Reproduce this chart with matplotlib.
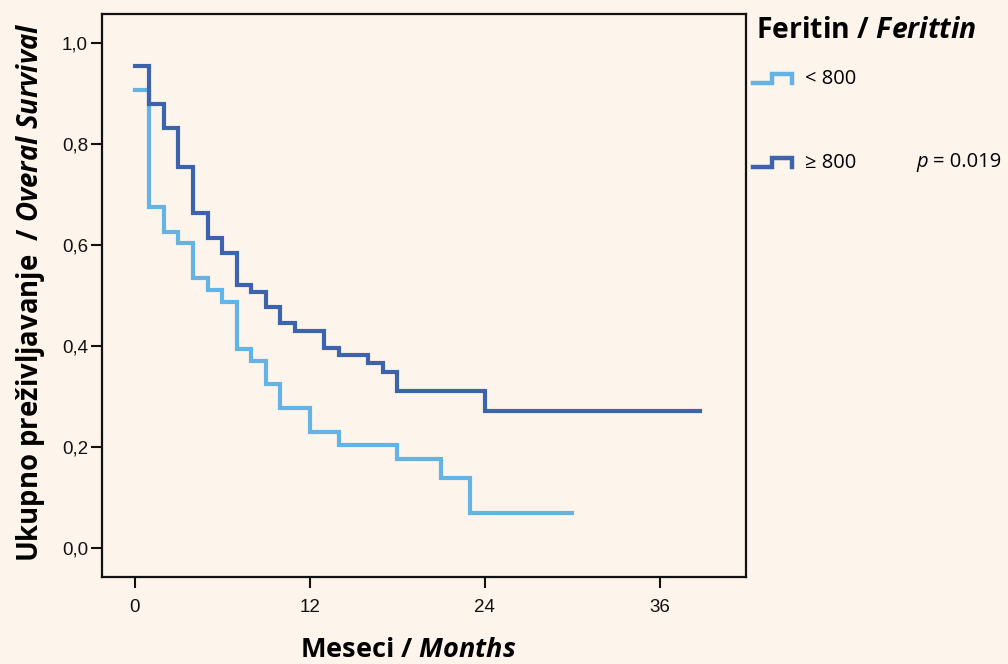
import matplotlib
matplotlib.use("Agg")
import matplotlib.pyplot as plt
from matplotlib.lines import Line2D

# Kaplan-Meier steps (months, survival)
months_low = [0, 1, 2, 3, 4, 5, 6, 7, 8, 9, 10, 12, 14, 18, 21, 23, 30]
surv_low = [0.907, 0.675, 0.626, 0.604, 0.535, 0.511, 0.487, 0.394, 0.370,
            0.325, 0.277, 0.230, 0.204, 0.176, 0.139, 0.069, 0.069]
months_high = [0, 1, 2, 3, 4, 5, 6, 7, 8, 9, 10, 11, 13, 14, 16, 17, 18, 24, 38.8]
surv_high = [0.954, 0.879, 0.832, 0.754, 0.663, 0.614, 0.584, 0.521, 0.507,
             0.477, 0.446, 0.430, 0.396, 0.382, 0.366, 0.349, 0.311, 0.271, 0.271]
group_labels = ["< 800", "\u2265 800"]
x_ticks = [0, 12, 24, 36]
y_ticks = [0.0, 0.2, 0.4, 0.6, 0.8, 1.0]
y_ticklabels = ["0,0", "0,2", "0,4", "0,6", "0,8", "1,0"]
p_text = "0.019"

bg = "#fdf4eb"
c_low = "#63b4e5"
c_high = "#3e63ad"

plt.rcParams["font.family"] = ["Liberation Sans Narrow", "Liberation Sans", "DejaVu Sans"]
plt.rcParams["mathtext.fontset"] = "custom"
plt.rcParams["mathtext.it"] = "Open Sans:italic:bold"
plt.rcParams["mathtext.rm"] = "Open Sans:bold"
plt.rcParams["mathtext.bf"] = "Open Sans:bold"

W, H = 1008, 664
fig = plt.figure(figsize=(W / 100, H / 100), dpi=100, facecolor=bg)
ax = fig.add_axes([102 / W, 1 - 577 / H, (746.5 - 102) / W, (577 - 14) / H])
ax.set_facecolor(bg)

ax.step(months_low, surv_low, where="post", color=c_low, lw=3.0, solid_joinstyle="miter")
ax.step(months_high, surv_high, where="post", color=c_high, lw=3.0, solid_joinstyle="miter")

ax.set_xlim(-2.24, 41.96)
ax.set_ylim(-0.057, 1.057)
ax.set_xticks(x_ticks)
ax.set_yticks(y_ticks)
ax.set_yticklabels(y_ticklabels)
ax.tick_params(axis="both", direction="out", length=8, width=1.5, labelsize=13.5,
               colors="#111111")
ax.tick_params(axis="x", pad=8)
ax.tick_params(axis="y", pad=2)
for s in ax.spines.values():
    s.set_linewidth(1.6)
    s.set_color("#111111")

fig.text(408 / W, 1 - 650 / H, r"Meseci / $\mathit{Months}$", family="Open Sans",
         weight="bold", fontsize=19.5, ha="center", va="center")
fig.text(31 / W, 1 - 292 / H,
         r"Ukupno preživljavanje  / $\mathit{Overal}$ $\mathit{Survival}$",
         family="Open Sans", weight="bold", fontsize=19.8, ha="center",
         va="center", rotation=90)

# legend, drawn by hand like the original
fig.text(756 / W, 1 - 30 / H, r"Feritin / $\mathit{Ferittin}$", family="Open Sans",
         weight="bold", fontsize=20.4, ha="left", va="center")
icon_y = [83, 167]
for yy, col, lab in zip(icon_y, [c_low, c_high], group_labels):
    xs = [753, 772, 772, 792, 792]
    ys = [yy, yy, yy - 9, yy - 9, yy]
    fig.add_artist(Line2D([x / W for x in xs], [1 - y / H for y in ys],
                          transform=fig.transFigure, color=col, lw=3.2,
                          solid_joinstyle="miter"))
    fig.text(805 / W, 1 - (yy - 4) / H, lab, family="Open Sans", fontsize=14.5,
             ha="left", va="center")
fig.text(916 / W, 1 - 162 / H, "p", family="Open Sans", style="italic",
         fontsize=14.5, ha="left", va="center")
fig.text(933 / W, 1 - 162 / H, "= " + p_text, family="Open Sans",
         fontsize=14.5, ha="left", va="center")

fig.savefig("out.png", dpi=100, facecolor=bg)
